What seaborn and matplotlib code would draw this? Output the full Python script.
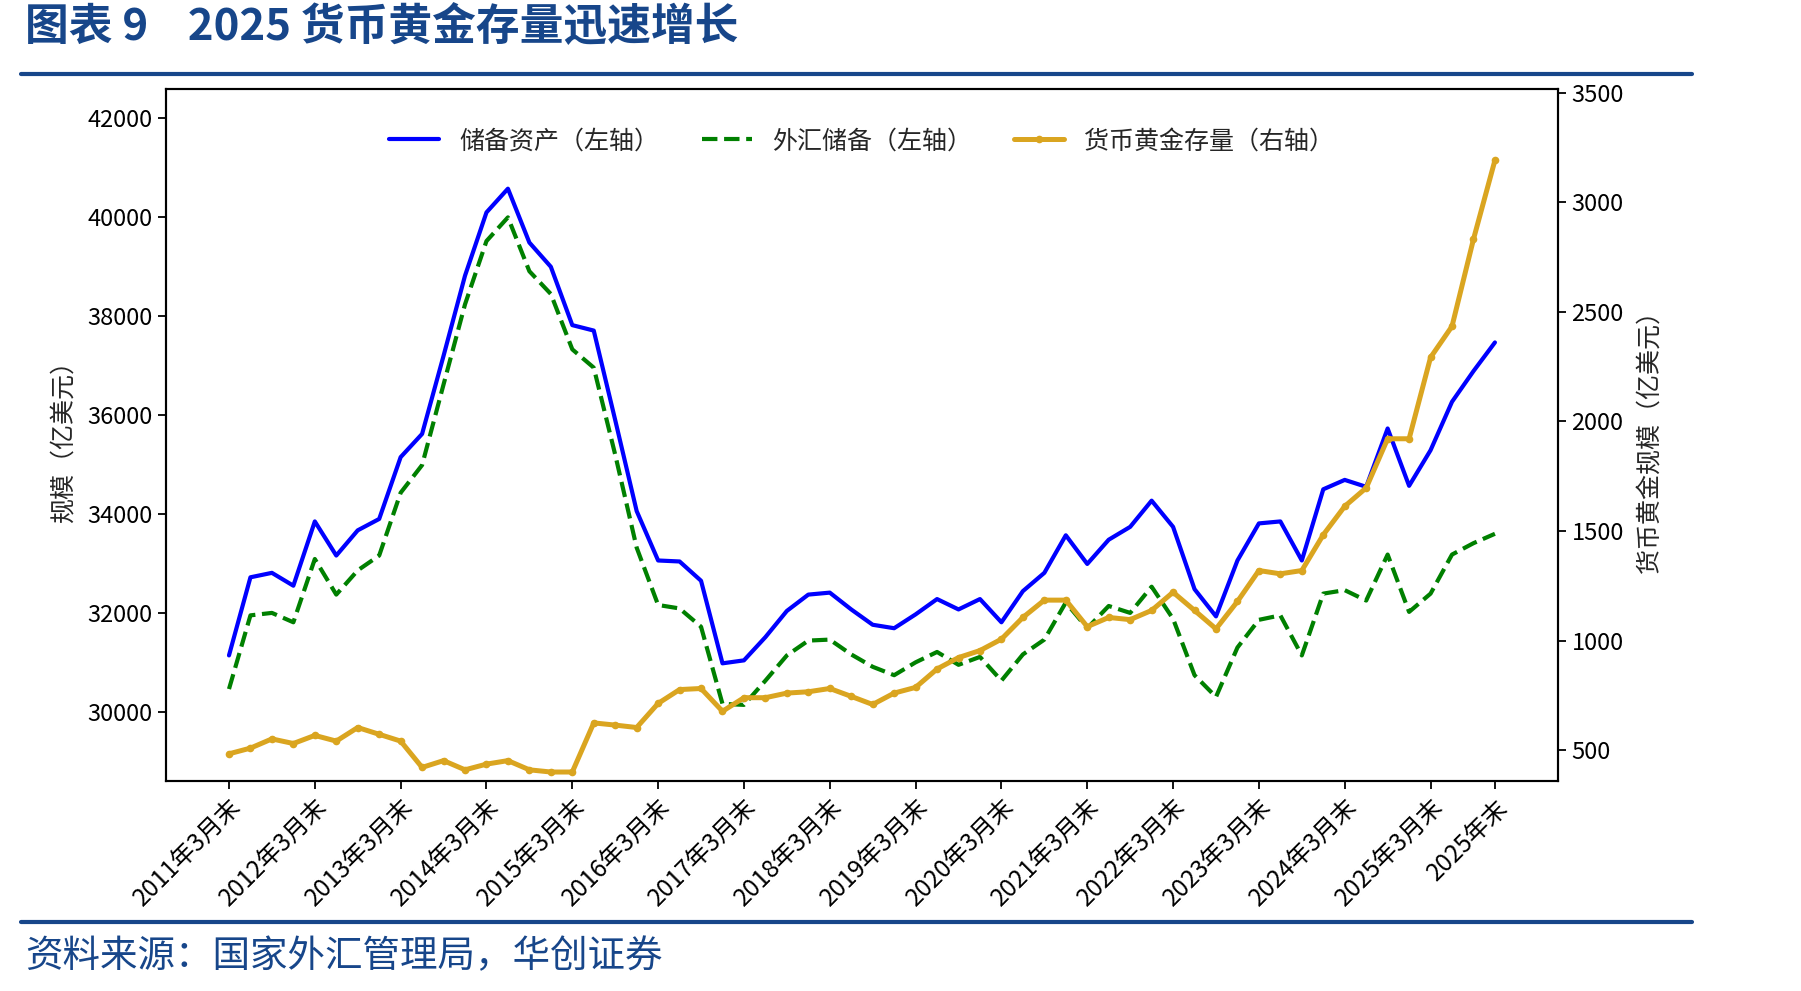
import numpy as np
import pandas as pd
import matplotlib
matplotlib.use("Agg")
import matplotlib.pyplot as plt
import seaborn as sns
from matplotlib.lines import Line2D

# ---------------- data (亿美元, quarterly, 2011Q1 .. 2025Q4) ----------------
periods = [f"{y}Q{q}" for y in range(2011, 2026) for q in range(1, 5)]

reserve_assets = [
    31140, 32720, 32810, 32550, 33850, 33160, 33670, 33900, 35150, 35620,
    37200, 38820, 40100, 40580, 39490, 39000, 37820, 37710, 35900, 34060,
    33060, 33040, 32650, 30980, 31040, 31510, 32040, 32370, 32410, 32070,
    31760, 31690, 31970, 32280, 32070, 32280, 31810, 32440, 32810, 33570,
    32990, 33480, 33740, 34270, 33740, 32480, 31930, 33060, 33810, 33850,
    33060, 34500, 34690, 34550, 35730, 34570, 35290, 36270, 36890, 37470,
]
fx_reserves = [
    30460, 31950, 32000, 31810, 33090, 32370, 32860, 33160, 34430, 34990,
    36620, 38240, 39520, 40000, 38910, 38450, 37330, 36960, 35200, 33320,
    32160, 32090, 31720, 30160, 30140, 30630, 31140, 31440, 31460, 31160,
    30910, 30740, 31000, 31210, 30950, 31110, 30630, 31160, 31460, 32210,
    31690, 32140, 32000, 32530, 31880, 30740, 30300, 31300, 31860, 31950,
    31140, 32390, 32460, 32250, 33180, 32020, 32390, 33180, 33410, 33600,
]
gold_stock = [
    484, 510, 552, 531, 568, 542, 604, 573, 542, 422,
    453, 411, 437, 453, 411, 401, 401, 625, 615, 604,
    714, 777, 782, 678, 740, 740, 761, 767, 782, 746,
    709, 761, 787, 871, 923, 955, 1007, 1106, 1185, 1185,
    1064, 1106, 1096, 1138, 1221, 1138, 1054, 1179, 1320, 1305,
    1320, 1483, 1613, 1697, 1921, 1921, 2292, 2434, 2831, 3191,
]

tick_positions = [0, 4, 8, 12, 16, 20, 24, 28, 32, 36, 40, 44, 48, 52, 56, 59]
tick_labels = [
    "2011年3月末", "2012年3月末", "2013年3月末", "2014年3月末", "2015年3月末",
    "2016年3月末", "2017年3月末", "2018年3月末", "2019年3月末", "2020年3月末",
    "2021年3月末", "2022年3月末", "2023年3月末", "2024年3月末", "2025年3月末",
    "2025年末",
]
left_ticks = [30000, 32000, 34000, 36000, 38000, 40000, 42000]
right_ticks = [500, 1000, 1500, 2000, 2500, 3000, 3500]

series_names = ["储备资产（左轴）", "外汇储备（左轴）", "货币黄金存量（右轴）"]

df = pd.DataFrame({
    "idx": np.arange(len(periods)),
    "period": periods,
    "reserve": reserve_assets,
    "fx": fx_reserves,
    "gold": gold_stock,
})

# ---------------- style ----------------
sns.set_style("ticks")
plt.rcParams["font.family"] = ["Noto Sans CJK SC", "DejaVu Sans"]
plt.rcParams["axes.unicode_minus"] = False

NAVY = "#17468A"
FS_TICK = 17
FS_XTICK = 17.5
FS_LAB = 18

fig = plt.figure(figsize=(18.01, 9.91), dpi=100)
ax = fig.add_axes([0.0920, 0.2119, 0.7732, 0.6980])

sns.lineplot(data=df, x="idx", y="reserve", ax=ax, color="#0000FF",
             linewidth=3.0, label=series_names[0], legend=False)
sns.lineplot(data=df, x="idx", y="fx", ax=ax, color="#008000",
             linewidth=3.0, linestyle="--", label=series_names[1], legend=False)

ax2 = ax.twinx()
sns.lineplot(data=df, x="idx", y="gold", ax=ax2, color="#DAA520",
             linewidth=3.6, marker="o", markersize=5.5, markeredgewidth=0,
             label=series_names[2], legend=False)

ax.set_xlim(-2.95, 61.95)
ax.set_ylim(28600, 42590)
ax2.set_ylim(360, 3515)

ax.set_xticks(tick_positions)
ax.set_xticklabels(tick_labels, rotation=45, ha="right", rotation_mode="anchor",
                   fontsize=FS_XTICK)
ax.set_yticks(left_ticks)
ax.set_yticklabels([str(v) for v in left_ticks], fontsize=FS_TICK)
ax2.set_yticks(right_ticks)
ax2.set_yticklabels([str(v) for v in right_ticks], fontsize=FS_TICK)

ax.set_xlabel("")
ax.set_ylabel("规模（亿美元）", fontsize=FS_LAB, labelpad=8)
ax2.set_ylabel("货币黄金规模（亿美元）", fontsize=FS_LAB, labelpad=10)

for a in (ax, ax2):
    a.tick_params(direction="out", length=6, width=1.3, colors="black",
                  labelcolor="black")
    for s in a.spines.values():
        s.set_linewidth(1.5)
        s.set_color("black")
        s.set_visible(True)

h1, l1 = ax.get_legend_handles_labels()
h2, l2 = ax2.get_legend_handles_labels()
leg = ax2.legend(h1 + h2, l1 + l2, loc="center", bbox_to_anchor=(0.5, 0.925),
                 ncol=3, frameon=False, fontsize=FS_LAB, handlelength=2.0,
                 handletextpad=0.8, columnspacing=1.7)

# ---------------- title / decorations ----------------
fig.text(25 / 1801, 1 - 27 / 991, "图表 9    2025 货币黄金存量迅速增长",
         fontsize=31.5, fontweight="bold", color=NAVY, ha="left", va="center")
fig.add_artist(Line2D([0.0115, 0.9395], [1 - 73.5 / 991] * 2,
                      color=NAVY, linewidth=3.0, transform=fig.transFigure))
fig.add_artist(Line2D([0.0115, 0.9395], [1 - 922 / 991] * 2,
                      color=NAVY, linewidth=3.0, transform=fig.transFigure))
fig.text(25 / 1801, 1 - 957 / 991, "资料来源：国家外汇管理局，华创证券",
         fontsize=27, color=NAVY, ha="left", va="center", style="italic")

fig.savefig("out.png", dpi=100)
